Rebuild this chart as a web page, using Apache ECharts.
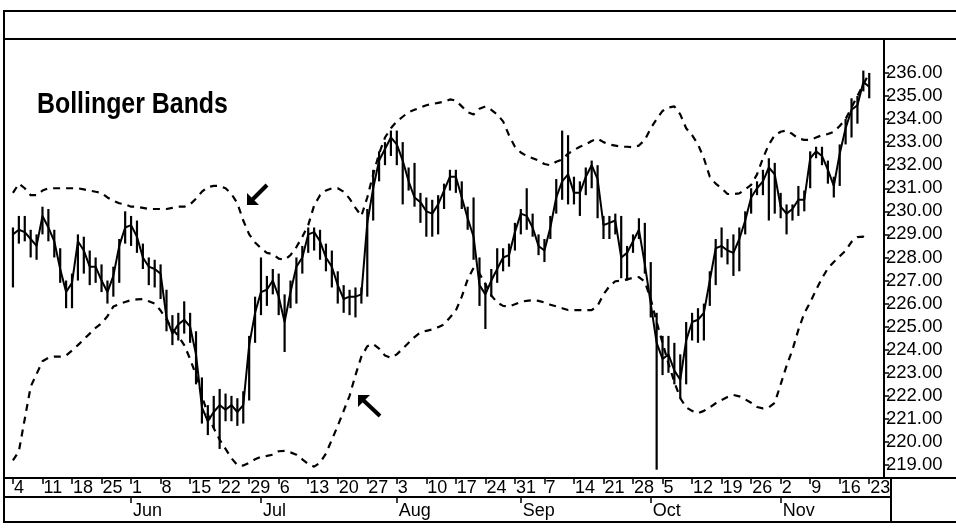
<!DOCTYPE html>
<html><head><meta charset="utf-8">
<script src="https://cdn.jsdelivr.net/npm/echarts@6/dist/echarts.min.js"></script>
<style>html,body{margin:0;padding:0;background:#fff}#c{width:956px;height:531px}</style>
</head><body><div id="c"></div>
<script>
// Monday labels (week starts), May 4 1998 .. Nov 23 1998
const weekLabels = ['4','11','18','25','1','8','15','22','29','6','13','20','27','3','10','17','24','31','7','14','21','28','5','12','19','26','2','9','16','23'];
const monthLabels = ['Jun','Jul','Aug','Sep','Oct','Nov'];
const yTickValues = [219,220,221,222,223,224,225,226,227,228,229,230,231,232,233,234,235,236];

const closeVals = [
229.0,229.2,229.1,228.8,228.5, 229.8,229.3,228.7,227.5,226.5,
226.9,228.7,228.3,227.6,227.6, 227.0,226.5,227.2,228.5,229.3,
229.4,228.9,228.0,227.6,227.5, 227.3,225.4,224.7,225.1,225.3,
225.0,223.8,221.5,220.9,221.3, 221.6,221.4,221.6,221.3,221.6,
224.2,225.6,226.5,226.6,227.0, 226.3,225.2,226.5,227.6,228.0,
229.0,229.1,228.7,228.0,227.6, 226.8,226.2,226.3,226.3,226.4,
229.5,231.0,232.2,232.7,233.2, 232.9,232.2,231.3,230.6,230.4,
230.0,229.9,230.3,230.9,231.5, 231.5,230.6,229.7,228.9,226.8,
226.4,227.0,227.5,228.0,228.1, 229.1,229.9,229.8,229.3,228.5,
228.3,229.3,230.6,231.3,231.6, 230.8,230.8,231.5,232.0,231.4,
229.4,229.5,229.6,228.0,228.2, 228.7,229.2,227.7,226.0,224.3,
223.6,223.8,223.1,222.7,224.4, 225.2,225.3,225.6,227.0,228.4,
228.5,228.3,228.2,228.8,229.6, 230.6,231.0,231.3,231.9,231.6,
230.2,229.9,230.1,230.5,230.5, 232.3,232.6,232.4,231.8,231.1,
232.5,233.6,234.4,234.6,235.6, 235.4];

const highVals = [
229.3,229.8,229.8,229.2,229.0, 230.2,230.1,229.2,228.4,227.0,
227.3,229.0,228.9,228.3,228.0, 227.7,227.0,227.6,228.8,230.0,
229.8,229.6,228.6,228.0,227.9, 227.7,226.6,225.5,225.6,226.1,
225.6,224.8,222.8,221.6,222.0, 222.3,222.1,222.0,221.9,222.2,
224.6,226.3,228.0,227.2,227.5, 227.3,226.4,227.0,228.0,228.5,
229.3,229.3,229.2,228.6,228.3, 227.4,226.8,226.6,226.7,226.7,
230.1,231.8,232.6,233.0,233.5, 233.5,233.0,231.9,232.1,230.8,
230.6,230.5,230.7,231.2,231.8, 231.8,231.3,230.2,230.6,228.0,
226.9,227.5,228.4,228.4,228.6, 229.5,230.1,231.0,229.9,229.0,
228.8,229.8,231.4,233.5,233.3, 231.5,231.3,231.9,232.2,232.0,
229.8,229.8,229.9,229.8,228.5, 229.0,229.7,229.5,227.8,225.6,
224.6,224.6,224.3,223.8,225.2, 225.6,225.8,226.0,227.4,228.8,
229.3,228.8,229.0,229.3,230.0, 231.0,231.3,231.8,232.3,232.1,
230.8,230.3,230.3,231.1,230.9, 232.6,232.8,232.8,232.2,231.5,
232.9,234.0,234.9,235.0,236.1, 236.0];

const lowVals = [
226.7,228.6,228.7,228.0,227.9, 229.0,228.7,228.0,226.9,225.8,
225.8,227.0,227.3,226.8,226.9, 226.5,226.0,226.3,226.9,228.6,
228.5,228.2,227.5,226.8,226.7, 226.2,224.8,224.2,224.4,224.7,
224.3,222.5,220.8,220.3,220.6, 219.7,220.9,220.9,220.7,220.8,
221.8,224.3,225.5,225.9,226.4, 225.5,223.9,225.8,226.0,227.3,
228.2,228.3,227.9,227.4,226.7, 226.0,225.6,225.5,225.4,226.0,
226.3,229.6,231.3,232.0,232.4, 232.0,230.3,230.9,230.2,229.5,
228.9,228.9,229.0,230.1,230.9, 230.8,230.1,229.2,227.9,225.9,
224.9,226.3,226.9,227.4,227.6, 228.3,229.0,229.2,228.9,228.1,
227.8,228.8,229.9,230.5,230.3, 230.3,229.8,230.7,231.0,229.7,
228.8,228.8,229.0,227.1,227.0, 228.2,228.8,227.3,225.4,218.8,
222.9,223.0,222.5,221.9,222.5, 224.4,224.3,224.4,225.9,226.8,
228.0,227.7,227.2,227.4,229.0, 229.9,230.7,230.7,229.6,229.9,
229.7,229.0,229.6,229.8,230.0, 231.0,232.3,232.0,231.2,230.6,
231.1,232.9,233.2,233.8,235.2, 234.9];

const upperBand = [
230.8,231.2,231.0,230.7,230.7, 230.9,231.0,231.0,231.0,231.0,
231.0,231.0,230.95,230.9,230.85, 230.8,230.6,230.45,230.35,230.3,
230.2,230.2,230.15,230.1,230.1, 230.1,230.1,230.15,230.2,230.2,
230.3,230.55,230.85,231.05,231.1, 231.1,231.0,230.75,230.35,229.6,
229.0,228.65,228.4,228.2,228.15, 227.95,227.9,228.1,228.45,228.9,
229.4,230.25,230.7,230.9,231.0, 231.0,230.85,230.55,230.15,229.8,
230.6,231.6,232.5,233.2,233.6, 233.9,234.1,234.3,234.4,234.5,
234.6,234.65,234.7,234.75,234.85, 234.8,234.55,234.3,234.2,234.45,
234.55,234.4,234.2,233.9,233.3, 232.8,232.55,232.4,232.3,232.2,
232.05,232.0,232.15,232.25,232.5, 232.65,232.8,232.9,233.05,233.15,
233.0,232.9,232.85,232.8,232.8, 232.78,232.85,233.1,233.6,234.0,
234.35,234.5,234.55,234.2,233.6, 233.3,232.9,232.3,231.5,231.2,
231.0,230.75,230.75,230.78,230.95, 231.15,231.6,232.3,232.9,233.3,
233.45,233.5,233.35,233.15,233.1, 233.1,233.2,233.3,233.35,233.45,
233.7,234.0,234.5,235.0,235.5, 236.0];

const lowerBand = [
219.2,219.6,221.0,222.4,222.95, 223.5,223.65,223.7,223.7,223.75,
223.97,224.2,224.45,224.7,224.95, 225.15,225.45,225.87,225.98,226.07,
226.15,226.18,226.2,226.1,226.0, 225.7,225.3,224.9,224.6,224.2,
223.6,222.9,222.0,221.2,220.6, 220.1,219.7,219.3,219.0,218.98,
219.1,219.25,219.36,219.4,219.45, 219.6,219.62,219.55,219.45,219.25,
219.05,218.93,219.1,219.5,220.1, 220.7,221.35,222.0,222.9,223.7,
224.15,224.25,224.05,223.75,223.65, 223.8,224.05,224.3,224.55,224.75,
224.82,224.88,224.98,225.1,225.4, 225.7,226.3,227.05,227.55,227.3,
226.85,226.35,226.05,225.9,225.88, 225.97,226.08,226.12,226.15,226.12,
226.05,225.95,225.88,225.8,225.72, 225.72,225.72,225.72,225.72,225.9,
226.4,226.75,226.97,227.0,227.05, 227.12,227.15,226.95,226.2,225.2,
224.3,223.4,222.6,221.9,221.5, 221.35,221.25,221.35,221.5,221.68,
221.82,221.95,222.04,221.98,221.85, 221.7,221.52,221.46,221.5,221.7,
222.5,223.3,224.0,224.86,225.58, 226.05,226.6,227.1,227.53,227.8,
228.05,228.3,228.68,228.88,228.9, 228.76];

// trading-day categories (weekdays) starting Mon May 4 1998
const nCats = 148;
const cats = [];
const catDates = [];
{
  const d = new Date(Date.UTC(1998, 4, 4));
  while (cats.length < nCats) {
    const wd = d.getUTCDay();
    if (wd > 0 && wd < 6) {
      catDates.push(new Date(d.getTime()));
      cats.push(d.toISOString().slice(0, 10));
    }
    d.setUTCDate(d.getUTCDate() + 1);
  }
}
const weekLabelAt = cats.map((c, i) => (i % 5 === 0 ? (weekLabels[i / 5] || '') : ''));
const monthLabelAt = cats.map(() => '');
{
  let m = 0;
  for (let i = 1; i < catDates.length; i++) {
    if (catDates[i].getUTCMonth() !== catDates[i - 1].getUTCMonth() && m < monthLabels.length) {
      monthLabelAt[i] = monthLabels[m++];
    }
  }
}

const FONT = "'Liberation Sans', Arial, sans-serif";
const chart = echarts.init(document.getElementById('c'), null, {renderer: 'canvas'});

const L = (x1, y1, x2, y2, w) => ({type: 'line', shape: {x1, y1, x2, y2}, style: {stroke: '#000', lineWidth: w || 2}, z: 100, silent: true});

chart.setOption({
  animation: false,
  backgroundColor: '#fff',
  grid: {left: 10, right: 72, top: 39, bottom: 53, containLabel: false},
  xAxis: [{
    type: 'category', data: cats, boundaryGap: true,
    axisLine: {show: false},
    axisTick: {show: true, alignWithLabel: true, length: 6, interval: (i) => weekLabelAt[i] !== '', lineStyle: {color: '#000', width: 1.5}},
    axisLabel: {interval: (i) => weekLabelAt[i] !== '', formatter: (v, i) => weekLabelAt[i], align: 'left', padding: [0, 0, 0, 1], margin: 1, color: '#000', fontFamily: FONT, fontSize: 18},
    splitLine: {show: false}
  }, {
    type: 'category', data: cats, boundaryGap: true, position: 'bottom', offset: 19,
    axisLine: {show: false},
    axisTick: {show: true, alignWithLabel: true, length: 6, interval: (i) => monthLabelAt[i] !== '', lineStyle: {color: '#000', width: 1.5}},
    axisLabel: {interval: (i) => monthLabelAt[i] !== '', formatter: (v, i) => monthLabelAt[i], align: 'left', padding: [0, 0, 0, 2], margin: 5, color: '#000', fontFamily: FONT, fontSize: 18},
    splitLine: {show: false}
  }],
  yAxis: {
    type: 'value', position: 'right', min: 218.44, max: 237.47, splitNumber: 19, scale: true,
    axisLine: {show: false},
    axisTick: {show: true, length: 5, customValues: yTickValues, lineStyle: {color: '#000', width: 1.5}},
    axisLabel: {
      margin: 2, color: '#000', fontFamily: FONT, fontSize: 18.5, customValues: yTickValues,
      formatter: (v) => Number(v).toFixed(2)
    },
    splitLine: {show: false}
  },
  series: [
    {type: 'line', data: upperBand, symbol: 'none', smooth: false, z: 2,
     lineStyle: {color: '#000', width: 2.2, type: [7, 6]}},
    {type: 'line', data: lowerBand, symbol: 'none', smooth: false, z: 2,
     lineStyle: {color: '#000', width: 2.2, type: [7, 6]}},
    {type: 'line', data: closeVals, symbol: 'none', z: 3,
     lineStyle: {color: '#000', width: 2}},
    {type: 'custom', z: 4,
     data: highVals.map((h, i) => [i, h, lowVals[i]]),
     encode: {x: 0, y: [1, 2]},
     renderItem: (params, api) => {
       const i = api.value(0);
       const a = api.coord([i, api.value(1)]);
       const b = api.coord([i, api.value(2)]);
       return {type: 'line', shape: {x1: a[0], y1: a[1], x2: b[0], y2: b[1]}, style: {stroke: '#000', lineWidth: 2.2}};
     }}
  ],
  graphic: [
    L(4, 11, 956, 11),
    L(4, 39, 956, 39),
    L(4, 10, 4, 523),
    L(884, 39, 884, 478),
    L(891, 478, 891, 522),
    L(4, 478, 956, 478),
    L(4, 497, 891, 497),
    L(4, 522, 956, 522),
    {type: 'text', x: 37, y: 90, scaleX: 0.83, z: 100,
     style: {text: 'Bollinger Bands', font: "bold 30px 'Liberation Sans', Arial, sans-serif", fill: '#000'}},
    // annotation arrows
    {type: 'polygon', shape: {points: [[247, 205], [259, 205], [247, 193]]}, style: {fill: '#000'}, z: 100},
    L(251, 201, 267, 185, 4),
    {type: 'polygon', shape: {points: [[358, 395], [370, 395], [358, 407]]}, style: {fill: '#000'}, z: 100},
    L(362, 399, 380, 416, 4)
  ]
});
</script>
</body></html>
